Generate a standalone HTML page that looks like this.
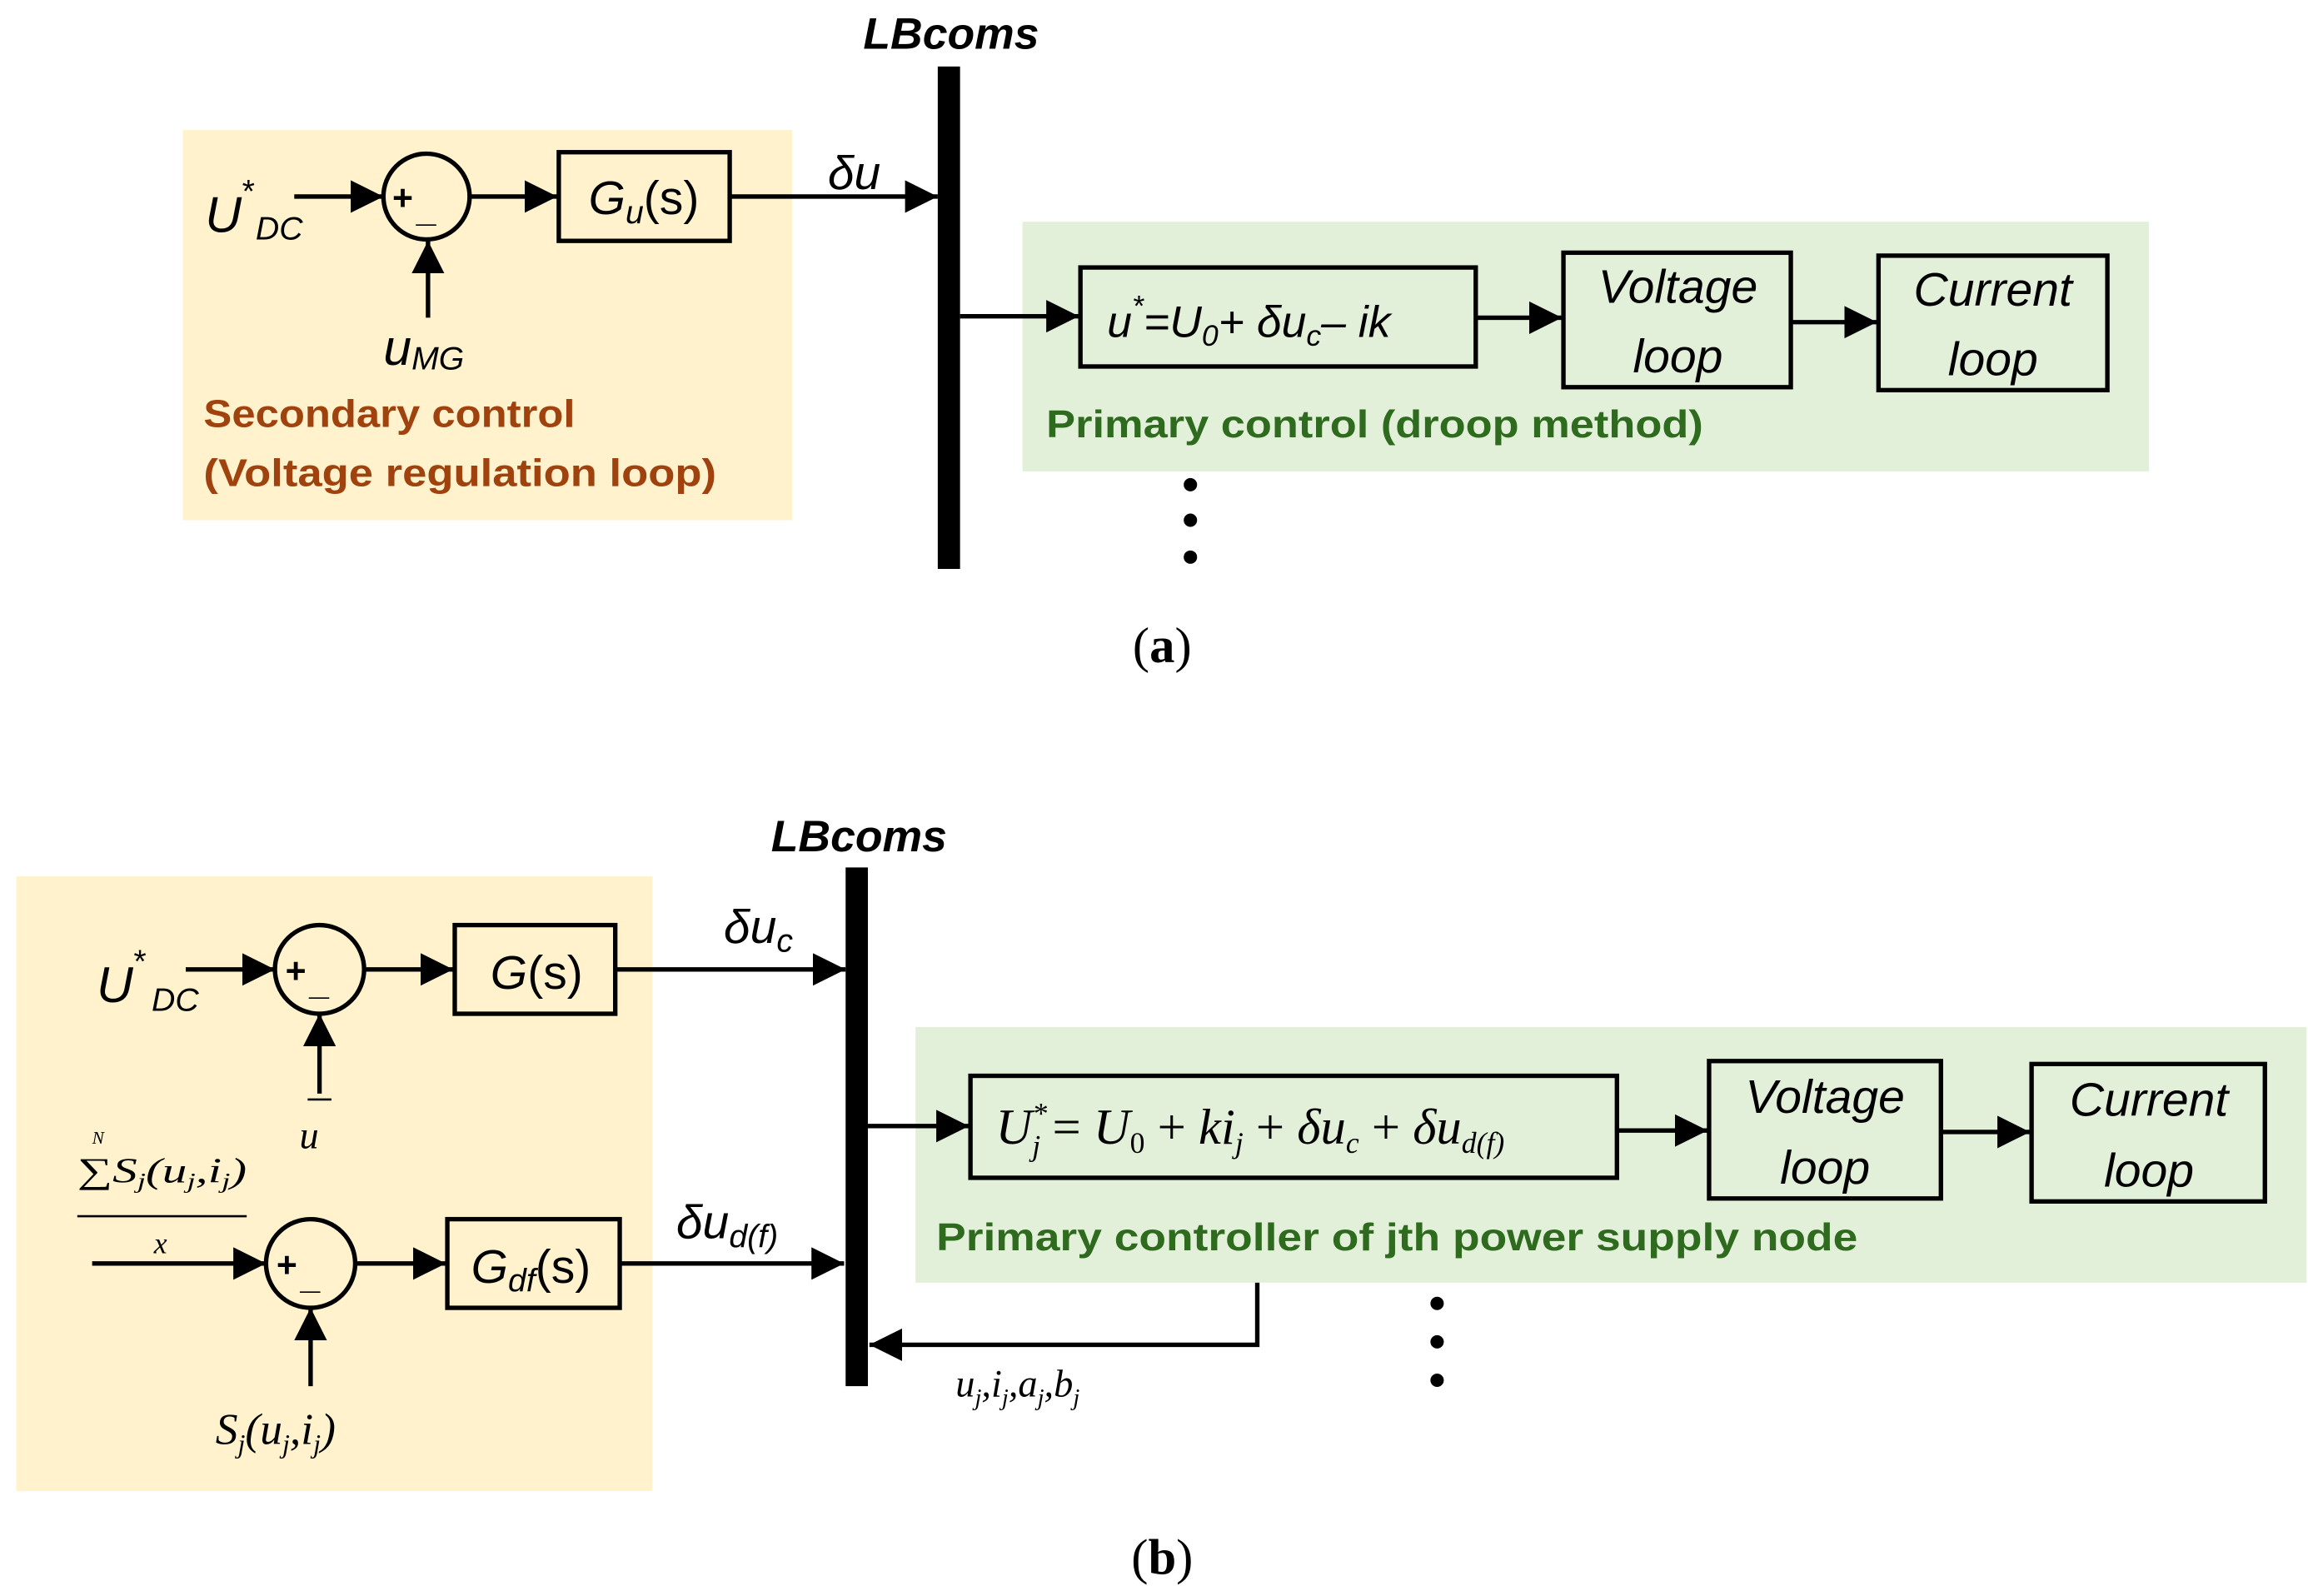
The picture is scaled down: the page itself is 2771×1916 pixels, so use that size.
<!DOCTYPE html>
<html><head><meta charset="utf-8"><style>
html,body{margin:0;padding:0;background:#fff;}
svg{display:block;}
text{font-family:"Liberation Sans",sans-serif;}
.ser{font-family:"Liberation Serif",serif;}
</style></head><body>
<svg width="2771" height="1916" viewBox="0 0 1553 1080" preserveAspectRatio="none" xmlns="http://www.w3.org/2000/svg">
<defs>
<marker id="a2" viewBox="0 0 10 10" refX="10" refY="5" markerWidth="22" markerHeight="22" markerUnits="userSpaceOnUse" orient="auto"><path d="M0,0 L10,5 L0,10 z" fill="#000"/></marker>
</defs>
<rect width="1553" height="1080" fill="#fff"/>
<!-- (a) -->
<rect x="123" y="88" width="410" height="264" fill="#fff2cc"/>
<rect x="688" y="150" width="758" height="169" fill="#e2f0d9"/>
<rect x="631" y="45" width="15" height="340" fill="#000"/>
<text x="640" y="33" font-size="30" font-weight="bold" font-style="italic" text-anchor="middle">LBcoms</text>
<g stroke="#000" stroke-width="3" fill="none">
<line x1="198" y1="133" x2="258" y2="133" marker-end="url(#a2)"/>
<circle cx="287" cy="133" r="29"/>
<line x1="317" y1="133" x2="375" y2="133" marker-end="url(#a2)"/>
<rect x="376" y="103" width="115" height="60"/>
<line x1="491" y1="133" x2="631" y2="133" marker-end="url(#a2)"/>
<line x1="288" y1="215" x2="288" y2="163" marker-end="url(#a2)"/>
<line x1="646" y1="214" x2="726" y2="214" marker-end="url(#a2)"/>
<rect x="727" y="181" width="266" height="67"/>
<line x1="993" y1="215" x2="1051" y2="215" marker-end="url(#a2)"/>
<rect x="1052" y="171" width="153" height="91"/>
<line x1="1205" y1="218" x2="1263" y2="218" marker-end="url(#a2)"/>
<rect x="1264" y="173" width="154" height="91"/>
</g>
<text x="138" y="157" font-size="34" font-style="italic">U</text>
<text x="162" y="137" font-size="22" font-style="italic">*</text>
<text x="172" y="162" font-size="22" font-style="italic">DC</text>
<text x="264" y="142" font-size="24" font-weight="bold">+</text>
<text x="280" y="150" font-size="24" font-weight="bold">_</text>
<text x="396" y="145" font-size="32" font-style="italic">G<tspan font-size="22" dy="6">u</tspan><tspan font-style="normal" dy="-6">(s)</tspan></text>
<text x="557" y="128" font-size="32" font-style="italic">δu</text>
<text x="258" y="247" font-size="34" font-style="italic">u<tspan font-size="22" dy="3">MG</tspan></text>
<text x="137" y="289" font-size="26" font-weight="bold" fill="#a0420e" textLength="250" lengthAdjust="spacingAndGlyphs">Secondary control</text>
<text x="137" y="329" font-size="26" font-weight="bold" fill="#a0420e" textLength="345" lengthAdjust="spacingAndGlyphs">(Voltage regulation loop)</text>
<text x="745" y="228" font-size="30" font-style="italic">u<tspan font-size="20" dy="-14">*</tspan><tspan dy="14">=U</tspan><tspan font-size="20" dy="6">0</tspan><tspan dy="-6">+ δu</tspan><tspan font-size="20" dy="6">c</tspan><tspan dy="-6">– ik</tspan></text>
<text x="1129" y="205" font-size="32" font-style="italic" text-anchor="middle">Voltage</text>
<text x="1129" y="252" font-size="32" font-style="italic" text-anchor="middle">loop</text>
<text x="1341" y="207" font-size="32" font-style="italic" text-anchor="middle">Current</text>
<text x="1341" y="254" font-size="32" font-style="italic" text-anchor="middle">loop</text>
<text x="704" y="296" font-size="26" font-weight="bold" fill="#2e6b1e" textLength="442" lengthAdjust="spacingAndGlyphs">Primary control (droop method)</text>
<circle cx="801" cy="328" r="4.5"/><circle cx="801" cy="352" r="4.5"/><circle cx="801" cy="377" r="4.5"/>
<text x="782" y="448" font-size="34" class="ser" text-anchor="middle">(<tspan font-weight="bold">a</tspan>)</text>
<!-- (b) -->
<rect x="11" y="593" width="428" height="416" fill="#fff2cc"/>
<rect x="616" y="695" width="936" height="173" fill="#e2f0d9"/>
<rect x="569" y="587" width="15" height="351" fill="#000"/>
<text x="578" y="576" font-size="30" font-weight="bold" font-style="italic" text-anchor="middle">LBcoms</text>
<g stroke="#000" stroke-width="3" fill="none">
<line x1="125" y1="656" x2="185" y2="656" marker-end="url(#a2)"/>
<circle cx="215" cy="656" r="30"/>
<line x1="245" y1="656" x2="305" y2="656" marker-end="url(#a2)"/>
<rect x="306" y="626" width="108" height="60"/>
<line x1="414" y1="656" x2="569" y2="656" marker-end="url(#a2)"/>
<line x1="215" y1="740" x2="215" y2="686" marker-end="url(#a2)"/>
<line x1="62" y1="855" x2="179" y2="855" marker-end="url(#a2)"/>
<circle cx="209" cy="855" r="30"/>
<line x1="239" y1="855" x2="300" y2="855" marker-end="url(#a2)"/>
<rect x="301" y="825" width="116" height="60"/>
<line x1="417" y1="855" x2="568" y2="855" marker-end="url(#a2)"/>
<line x1="209" y1="938" x2="209" y2="885" marker-end="url(#a2)"/>
<line x1="584" y1="762" x2="652" y2="762" marker-end="url(#a2)"/>
<rect x="653" y="728" width="435" height="69"/>
<line x1="1088" y1="765" x2="1149" y2="765" marker-end="url(#a2)"/>
<rect x="1150" y="718" width="156" height="93"/>
<line x1="1306" y1="766" x2="1366" y2="766" marker-end="url(#a2)"/>
<rect x="1367" y="720" width="157" height="93"/>
<polyline points="846,868 846,910 585,910" marker-end="url(#a2)"/>
</g>
<line x1="52" y1="823" x2="166" y2="823" stroke="#000" stroke-width="1.5"/>
<line x1="207" y1="744" x2="223" y2="744" stroke="#000" stroke-width="1.5"/>
<text x="65" y="678" font-size="34" font-style="italic">U</text>
<text x="89" y="658" font-size="22" font-style="italic">*</text>
<text x="102" y="684" font-size="22" font-style="italic">DC</text>
<text x="192" y="665" font-size="24" font-weight="bold">+</text>
<text x="208" y="673" font-size="24" font-weight="bold">_</text>
<text x="330" y="669" font-size="32" font-style="italic">G<tspan font-style="normal">(s)</tspan></text>
<text x="208" y="777" font-size="26" class="ser" font-style="italic" text-anchor="middle">u</text>
<text x="52" y="800" font-size="24" class="ser" textLength="114" lengthAdjust="spacingAndGlyphs">∑<tspan font-style="italic">S<tspan font-size="15" dy="4">j</tspan><tspan dy="-4">(u</tspan><tspan font-size="15" dy="4">j</tspan><tspan dy="-4">,i</tspan><tspan font-size="15" dy="4">j</tspan><tspan dy="-4">)</tspan></tspan></text>
<text x="62" y="774" font-size="12" class="ser" font-style="italic">N</text>
<text x="108" y="848" font-size="20" class="ser" font-style="italic" text-anchor="middle">x</text>
<text x="186" y="864" font-size="24" font-weight="bold">+</text>
<text x="202" y="872" font-size="24" font-weight="bold">_</text>
<text x="317" y="868" font-size="32" font-style="italic">G<tspan font-size="22" dy="6">df</tspan><tspan font-style="normal" dy="-6">(s)</tspan></text>
<text x="145" y="977" font-size="30" class="ser" font-style="italic">S<tspan font-size="18" dy="6">j</tspan><tspan dy="-6">(u</tspan><tspan font-size="18" dy="6">j</tspan><tspan dy="-6">,i</tspan><tspan font-size="18" dy="6">j</tspan><tspan dy="-6">)</tspan></text>
<text x="487" y="638" font-size="32" font-style="italic">δu<tspan font-size="22" dy="6">c</tspan></text>
<text x="455" y="838" font-size="32" font-style="italic">δu<tspan font-size="22" dy="6">d(f)</tspan></text>
<text x="670" y="774" font-size="34" class="ser" font-style="italic">U<tspan font-size="20" dy="-14">*</tspan><tspan font-size="20" dx="-10" dy="22">j</tspan><tspan font-style="normal" dx="8" dy="-8">= </tspan>U<tspan font-size="20" font-style="normal" dy="6">0</tspan><tspan font-style="normal" dy="-6"> + </tspan>ki<tspan font-size="20" dy="6">j</tspan><tspan font-style="normal" dy="-6"> + </tspan>δu<tspan font-size="20" dy="6">c</tspan><tspan font-style="normal" dy="-6"> + </tspan>δu<tspan font-size="20" dy="6">d(f)</tspan></text>
<text x="1228" y="753" font-size="32" font-style="italic" text-anchor="middle">Voltage</text>
<text x="1228" y="801" font-size="32" font-style="italic" text-anchor="middle">loop</text>
<text x="1446" y="755" font-size="32" font-style="italic" text-anchor="middle">Current</text>
<text x="1446" y="803" font-size="32" font-style="italic" text-anchor="middle">loop</text>
<text x="630" y="846" font-size="26" font-weight="bold" fill="#2e6b1e" textLength="620" lengthAdjust="spacingAndGlyphs">Primary controller of jth power supply node</text>
<text x="643" y="945" font-size="26" class="ser" font-style="italic">u<tspan font-size="16" dy="6">j</tspan><tspan dy="-6">,i</tspan><tspan font-size="16" dy="6">j</tspan><tspan dy="-6">,a</tspan><tspan font-size="16" dy="6">j</tspan><tspan dy="-6">,b</tspan><tspan font-size="16" dy="6">j</tspan></text>
<circle cx="967" cy="882" r="4.5"/><circle cx="967" cy="908" r="4.5"/><circle cx="967" cy="934" r="4.5"/>
<text x="782" y="1065" font-size="34" class="ser" text-anchor="middle">(<tspan font-weight="bold">b</tspan>)</text>
</svg>
</body></html>
